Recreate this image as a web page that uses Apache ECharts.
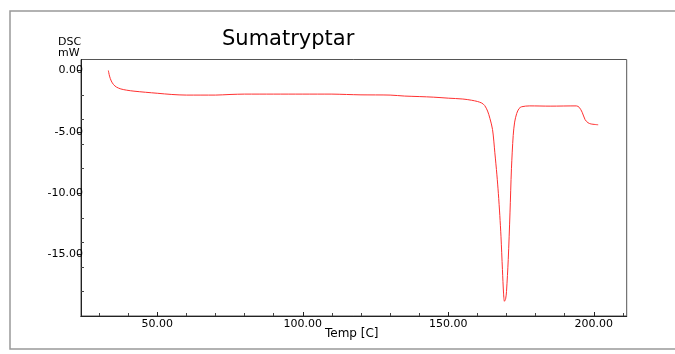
<!DOCTYPE html>
<html>
<head>
<meta charset="utf-8">
<script src="https://cdn.jsdelivr.net/npm/echarts@6/dist/echarts.min.js"></script>
<style>html,body{margin:0;padding:0;background:#fff;}#c{width:675px;height:354px;}</style>
</head>
<body>
<div id="c"></div>
<script>
const temps = [33.2,33.6,34.2,35.0,36.0,37.5,39.5,42,46,50,55,60,70,75,80,90,100,110,115,120,130,135,140,145,150,155,158,160,161.5,162.5,163.5,164.3,165.2,166,166.7,167.2,167.7,168.1,168.6,169.0,169.3,169.7,170.0,170.6,171.2,171.7,172.3,172.8,173.5,174.3,175.2,178,185,194,195,196,197,198,199,201.5];
const dsc = [0.0,-0.45,-0.85,-1.15,-1.35,-1.5,-1.6,-1.68,-1.77,-1.85,-1.95,-2.0,-2.0,-1.95,-1.92,-1.92,-1.92,-1.92,-1.95,-1.98,-2.0,-2.08,-2.12,-2.17,-2.25,-2.32,-2.42,-2.52,-2.65,-2.85,-3.3,-3.9,-4.8,-6.7,-8.5,-10,-11.8,-13.5,-16.2,-18.2,-18.8,-18.6,-18.0,-15.4,-11.6,-8.0,-5.3,-4.2,-3.5,-3.1,-2.95,-2.88,-2.9,-2.88,-3.0,-3.4,-4.0,-4.25,-4.35,-4.42];
const xMajor = [50,100,150,200];
const xMinor = [30,40,60,70,80,90,110,120,130,140,160,170,180,190,210];
const yMajor = [0,-5,-10,-15];
const yMinor = [-2,-4,-6,-8,-12,-14,-16,-18];
const title = 'Sumatryptar';

const F = 'DejaVu Sans';
const chart = echarts.init(document.getElementById('c'));
const xmin = 23.8, xmax = 211.3, ymin = -20, ymax = 0.9;
const gridPos = {left: 81, top: 59.5, right: 48.3, bottom: 38};
chart.setOption({
  animation: false,
  backgroundColor: '#fff',
  grid: [
    Object.assign({show: true, borderColor: '#555', borderWidth: 1}, gridPos),
    Object.assign({show: false}, gridPos)
  ],
  xAxis: [{
    type: 'value', gridIndex: 0, min: xmin, max: xmax, position: 'bottom',
    axisLine: {show: true, onZero: false, lineStyle: {color: '#222', width: 1}},
    splitLine: {show: false},
    axisTick: {show: true, inside: true, length: 4, customValues: xMajor, lineStyle: {color: '#222'}},
    axisLabel: {customValues: xMajor, margin: 3, color: '#000', fontFamily: F, fontSize: 11,
      formatter: v => v.toFixed(2)}
  },{
    type: 'value', gridIndex: 1, min: xmin, max: xmax, position: 'bottom',
    axisLine: {show: true, onZero: false, lineStyle: {color: '#222', width: 1}}, splitLine: {show: false},
    axisTick: {show: true, inside: false, length: -3, customValues: xMinor, lineStyle: {color: '#444'}},
    axisLabel: {show: false}
  }],
  yAxis: [{
    type: 'value', gridIndex: 0, min: ymin, max: ymax, position: 'left',
    axisLine: {show: true, onZero: false, lineStyle: {color: '#222', width: 1}},
    splitLine: {show: false},
    axisTick: {show: true, inside: false, length: 4, customValues: yMajor, lineStyle: {color: '#222'}},
    axisLabel: {customValues: yMajor, margin: -2, color: '#000', fontFamily: F, fontSize: 11,
      formatter: v => v.toFixed(2)}
  },{
    type: 'value', gridIndex: 1, min: ymin, max: ymax, position: 'left',
    axisLine: {show: true, onZero: false, lineStyle: {color: '#222', width: 1}}, splitLine: {show: false},
    axisTick: {show: true, inside: false, length: -3, customValues: yMinor, lineStyle: {color: '#444'}},
    axisLabel: {show: false}
  }],
  graphic: [
    {type: 'rect', shape: {x: 10, y: 11, width: 700, height: 338}, style: {fill: 'none', stroke: '#999', lineWidth: 1.5}, silent: true},
    {type: 'text', x: 222, y: 40, style: {text: title, font: '21px "DejaVu Sans"', fill: '#000', verticalAlign: 'middle', align: 'left'}},
    {type: 'text', x: 58, y: 42, style: {text: 'DSC', font: '11px "DejaVu Sans"', fill: '#000', verticalAlign: 'middle', align: 'left'}},
    {type: 'text', x: 58, y: 53, style: {text: 'mW', font: '11px "DejaVu Sans"', fill: '#000', verticalAlign: 'middle', align: 'left'}},
    {type: 'text', x: 325, y: 334, style: {text: 'Temp [C]', font: '12px "DejaVu Sans"', fill: '#000', verticalAlign: 'middle', align: 'left'}}
  ],
  series: [{
    type: 'line', xAxisIndex: 0, yAxisIndex: 0,
    data: temps.map((t, i) => [t, dsc[i]]),
    showSymbol: false, smooth: 0.3,
    lineStyle: {color: '#ff3030', width: 1}
  }]
});
</script>
</body>
</html>
